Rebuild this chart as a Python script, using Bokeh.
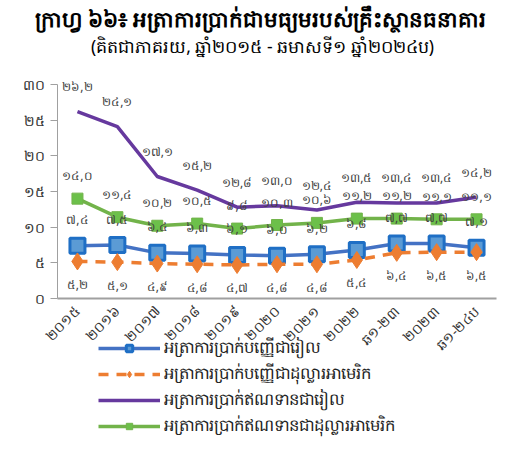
from bokeh.plotting import figure
from bokeh.models import (ColumnDataSource, Legend, LegendItem, Label,
                          FixedTicker, Range1d)
from bokeh.core.properties import value
from bokeh.embed import file_html
from bokeh.resources import INLINE

categories = ["២០១៥", "២០១៦", "២០១៧", "២០១៨", "២០១៩", "២០២០", "២០២១",
              "២០២២", "ឆ១-២៣", "២០២៣", "ឆ១-២៤ប"]
deposit_khr = [7.4, 7.5, 6.4, 6.3, 6.1, 6.0, 6.2, 6.8, 7.7, 7.7, 7.1]
deposit_usd = [5.2, 5.1, 4.9, 4.8, 4.7, 4.8, 4.8, 5.4, 6.4, 6.5, 6.5]
loan_khr = [26.2, 24.1, 17.1, 15.2, 12.8, 13.0, 12.4, 13.5, 13.4, 13.4, 14.2]
loan_usd = [14.0, 11.4, 10.2, 10.5, 9.8, 10.3, 10.6, 11.2, 11.2, 11.1, 11.1]
y_ticks = [0, 5, 10, 15, 20, 25, 30]
y_tick_labels = ["០", "៥", "១០", "១៥", "២០", "២៥", "៣០"]
series_names = ["អត្រាការប្រាក់បញ្ញើជារៀល",
                "អត្រាការប្រាក់បញ្ញើជាដុល្លារអាមេរិក",
                "អត្រាការប្រាក់ឥណទានជារៀល",
                "អត្រាការប្រាក់ឥណទានជាដុល្លារអាមេរិក"]
title_text = "ក្រាហ្វ ៦៦៖ អត្រាការប្រាក់ជាមធ្យមរបស់គ្រឹះស្ថានធនាគារ"
subtitle_text = "(គិតជាភាគរយ, ឆ្នាំ២០១៥ - ឆមាសទី១ ឆ្នាំ២០២៤ប)"

KH_DIGITS = str.maketrans("0123456789", "០១២៣៤៥៦៧៨៩")


def kh(v):
    return ("%.1f" % v).replace(".", ",").translate(KH_DIGITS)


FONT = "Noto Sans"
LABEL_COLOR = "#404040"

# ---- layout in canvas pixels (canvas 503 x 441) ----
W, H = 503, 441
PLOT_L, PLOT_R = 57, 496        # plot area left / right
PLOT_T, PLOT_B = 84, 298        # value 30 / value 0
n = len(categories)
px_x = (PLOT_R - PLOT_L) / n     # pixels per category
px_y = (PLOT_B - PLOT_T) / 30.0  # pixels per unit
x_lo = -0.5 - PLOT_L / px_x
x_hi = n - 0.5 + (W - PLOT_R) / px_x
y_lo = -(H - PLOT_B) / px_y
y_hi = 30 + PLOT_T / px_y

xs = list(range(n))

src = ColumnDataSource(dict(
    x=xs,
    dk=deposit_khr, du=deposit_usd, lk=loan_khr, lu=loan_usd,
    dk_t=[kh(v) for v in deposit_khr], du_t=[kh(v) for v in deposit_usd],
    lk_t=[kh(v) for v in loan_khr], lu_t=[kh(v) for v in loan_usd],
))

p = figure(width=W, height=H, x_range=Range1d(x_lo, x_hi),
           y_range=Range1d(y_lo, y_hi),
           output_backend="svg", toolbar_location=None,
           min_border_left=0, min_border_right=0, min_border_top=0,
           min_border_bottom=0)
p.outline_line_color = None
p.grid.visible = False
p.background_fill_color = "white"
p.border_fill_color = "white"

# titles
title_x = (260 - PLOT_L) / px_x - 0.5
p.add_layout(Label(x=title_x, y=30 + (PLOT_T - 18) / px_y, text=title_text,
                   text_font=FONT, text_font_size="21.5px", text_font_style="bold",
                   text_align="center", text_baseline="middle",
                   text_color="black"))
p.add_layout(Label(x=(262 - PLOT_L) / px_x - 0.5, y=30 + (PLOT_T - 45) / px_y,
                   text=subtitle_text,
                   text_font=FONT, text_font_size="17.5px",
                   text_align="center", text_baseline="middle",
                   text_color="black"))

# axes
p.yaxis.fixed_location = -0.5
p.yaxis.bounds = (0, 30)
p.yaxis.ticker = FixedTicker(ticks=y_ticks)
p.yaxis.major_label_overrides = dict(zip(y_ticks, y_tick_labels))
p.yaxis.major_tick_out = 7
p.yaxis.major_tick_in = 0
p.yaxis.minor_tick_line_color = None
p.yaxis.axis_line_color = "#a0a0a0"
p.yaxis.major_tick_line_color = "#a0a0a0"
p.yaxis.major_label_text_font = FONT
p.yaxis.major_label_text_font_size = "14px"
p.yaxis.major_label_text_color = "#333333"
p.yaxis.major_label_standoff = 6

p.xaxis.fixed_location = 0
p.xaxis.bounds = (-0.5, n - 0.5)
p.xaxis.ticker = FixedTicker(ticks=xs)
p.xaxis.major_label_overrides = dict(zip(xs, categories))
p.xaxis.major_label_orientation = 0.785
p.xaxis.major_tick_line_color = None
p.xaxis.minor_tick_line_color = None
p.xaxis.axis_line_color = "#a0a0a0"
p.xaxis.axis_line_width = 2
p.xaxis.major_label_text_font = FONT
p.xaxis.major_label_text_font_size = "14px"
p.xaxis.major_label_text_color = "#333333"
p.xaxis.major_label_standoff = 4

# series
r_lk = p.line("x", "lk", source=src, line_color="#66399e", line_width=3.5)
r_lu = p.line("x", "lu", source=src, line_color="#72b34a", line_width=3.5)
r_lu_m = p.scatter("x", "lu", source=src, marker="square", size=11,
                   fill_color="#6cc04a", line_color="#72b34a", line_width=1)
r_dk = p.line("x", "dk", source=src, line_color="#4472c4", line_width=3.5)
r_dk_m = p.scatter("x", "dk", source=src, marker="square", size=15,
                   fill_color="#5b9bd5", line_color="#1f6fc5", line_width=3)
r_du = p.line("x", "du", source=src, line_color="#ed7d31", line_width=3.5,
              line_dash="10 8")
r_du_m = p.scatter("x", "du", source=src, marker="diamond", size=17,
                   fill_color="#ed7d31", line_color="#ed7d31")

# data labels
common = dict(source=src, text_font=value(FONT), text_font_size="12px",
              text_color=LABEL_COLOR, text_align="center", text_baseline="middle")
p.text("x", "lk", text="lk_t", y_offset=-25, **common)
p.text("x", "lu", text="lu_t", y_offset=-23, **common)
p.text("x", "dk", text="dk_t", y_offset=-26, **common)
p.text("x", "du", text="du_t", y_offset=23, **common)

legend = Legend(items=[
    LegendItem(label=series_names[0], renderers=[r_dk, r_dk_m]),
    LegendItem(label=series_names[1], renderers=[r_du, r_du_m]),
    LegendItem(label=series_names[2], renderers=[r_lk]),
    LegendItem(label=series_names[3], renderers=[r_lu, r_lu_m]),
], location=(98, 2), orientation="vertical",
    glyph_width=62, glyph_height=16, spacing=0, padding=2, margin=0,
    label_standoff=4, label_text_font=FONT, label_text_font_size="16.5px",
    label_text_color="#222222", border_line_color=None,
    background_fill_alpha=0)
p.add_layout(legend, "center")

open("out.html", "w").write(file_html(p, INLINE))
